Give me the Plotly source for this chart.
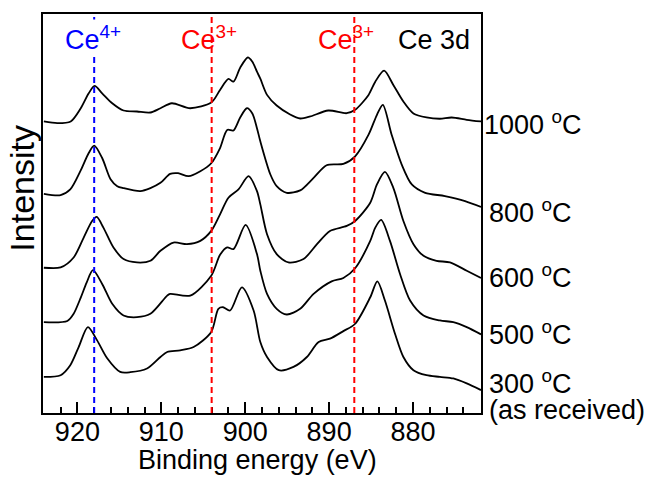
import plotly.graph_objects as go

# ---------------- data (binding energy in eV, offset intensity in a.u.) ----------------
be_1000 = [924.0, 922.4, 920.8, 919.6, 918.65, 917.95, 917.05, 915.85, 914.5, 912.9, 911.3, 910.1,
           908.75, 906.55, 904.05, 903.0, 902.0, 901.4, 900.6, 899.7, 899.15, 898.6, 898.2, 897.4,
           896.25, 894.65, 893.45, 892.25, 890.1, 887.9, 886.9, 885.3, 884.5, 883.45, 882.35,
           881.15, 879.95, 878.4, 876.8, 875.4, 873.6, 871.9]
int_1000 = [293, 291.3, 293, 306.3, 321.3, 328.7, 321.3, 311.3, 304, 303, 302, 306.3,
            311.3, 306.3, 312, 324.7, 335.7, 333, 347, 357.3, 353, 343, 336, 319.7,
            309, 300, 296, 298, 304, 301.3, 304.7, 319.7, 333, 344, 329.7,
            313, 301, 297, 295.7, 297, 294.7, 293]

be_800 = [924.0, 922.0, 920.85, 919.65, 918.65, 918.0, 917.05, 916.05, 915.25, 914.5, 912.5, 911.3,
          910.1, 908.95, 908.0, 906.75, 905.35, 904.05, 903.0, 902.15, 901.4, 900.6, 899.8, 899.15,
          898.6, 898.2, 897.0, 896.25, 895.05, 893.45, 891.85, 890.3, 888.3, 886.9, 885.3, 884.3,
          883.6, 882.55, 881.35, 880.15, 878.55, 876.2, 873.8, 871.9]
int_800 = [220.3, 219, 224.7, 243, 261.3, 268.7, 256.3, 235, 228, 226, 223, 226,
           231.3, 240.3, 241, 238, 243, 251, 266.3, 284.5, 284, 297, 306.3, 301,
           286.3, 273, 239.7, 228, 221.3, 223.7, 236.3, 249, 250.3, 258, 279.7, 299.7,
           309.7, 279.7, 249.7, 229.7, 221.3, 218, 213, 207]

be_600 = [924.0, 922.0, 920.45, 919.25, 918.25, 917.7, 916.9, 915.7, 914.5, 912.9, 911.3, 910.1,
          908.55, 906.95, 905.35, 904.05, 903.0, 902.0, 900.8, 899.6, 898.6, 898.2, 897.4, 896.25,
          894.85, 893.05, 891.45, 889.9, 887.9, 886.9, 885.1, 884.3, 883.35, 882.35, 881.15,
          879.95, 878.75, 877.2, 875.6, 873.6, 871.9]
int_600 = [146, 146.3, 156.3, 176.3, 193, 197, 186.3, 166.3, 154.7, 151.3, 153, 163,
           171.3, 169.7, 173, 183, 199.7, 216.3, 224.7, 238, 223, 209.7, 179.7, 159.7,
           151.3, 154.7, 169.7, 183, 188, 193, 211.3, 229.7, 242.3, 226.3, 193,
           169.7, 158, 153, 151.3, 143, 135.7]

be_500 = [924.0, 921.2, 920.45, 919.6, 918.9, 918.15, 917.05, 915.85, 914.5, 912.9, 911.3, 909.3,
          908.95, 906.55, 904.05, 903.0, 902.15, 901.4, 899.95, 898.6, 898.2, 897.4, 896.25,
          895.05, 893.45, 891.85, 889.7, 888.3, 886.9, 885.1, 884.5, 883.8, 882.75, 881.55,
          880.35, 878.75, 876.8, 875.2, 873.6, 871.9]
int_500 = [91.3, 92.5, 99.7, 116, 131, 143.5, 129.7, 109.7, 98, 96.3, 99.7, 118,
           119.7, 118, 138, 159, 166.5, 164.7, 189, 159.7, 143, 119.7, 104.7,
           99, 104.7, 119.7, 132.3, 135.7, 145.5, 173, 186.3, 194, 173, 139.7,
           113, 98, 93, 91.3, 86.3, 79]

be_300 = [924.0, 922.0, 920.85, 919.85, 918.75, 917.65, 916.45, 914.9, 913.7, 911.7, 910.1, 909.3,
          907.75, 906.15, 904.05, 903.2, 902.65, 901.8, 900.4, 899.0, 898.2, 897.4, 896.0,
          894.25, 892.65, 891.25, 889.9, 888.3, 886.9, 885.1, 884.25, 883.35, 882.15, 881.15,
          879.95, 878.4, 876.8, 875.2, 873.6, 871.9]
int_300 = [36.3, 38, 48, 66.3, 86.3, 73, 55, 41.3, 41, 44.7, 56.3, 61.3,
           63, 66.3, 81.5, 104.7, 106.3, 103, 126.3, 103, 71.3, 56.3, 43,
           46.3, 56.3, 71.3, 74.7, 82.3, 89.7, 116.3, 132.3, 113, 79.7, 56.3,
           43, 38, 36.3, 34.7, 29.7, 23]

series_be = [be_1000, be_800, be_600, be_500, be_300]
series_int = [int_1000, int_800, int_600, int_500, int_300]
series_names = ["1000 <sup>o</sup>C", "800 <sup>o</sup>C", "600 <sup>o</sup>C",
                "500 <sup>o</sup>C", "300 <sup>o</sup>C"]

marker_be = [918.0, 904.0, 887.0]
marker_colors = ["#0000ff", "#ff0000", "#ff0000"]
marker_labels = ["Ce<sup>4+</sup>", "Ce<sup>3+</sup>", "Ce<sup>3+</sup>"]
marker_label_x = [918.13, 904.26, 887.95]
marker_label_bg = ["white", "rgba(0,0,0,0)", "rgba(0,0,0,0)"]

tick_vals = [920, 910, 900, 890, 880]

# ---------------- figure ----------------
FONT = "Liberation Sans, Arial, sans-serif"
fig = go.Figure()

for be, inten, nm in zip(series_be, series_int, series_names):
    fig.add_trace(go.Scatter(x=be, y=inten, mode="lines", name=nm,
                             line=dict(color="black", width=1.8, shape="spline", smoothing=0.8),
                             showlegend=False, hoverinfo="skip"))

for xb, col in zip(marker_be, marker_colors):
    fig.add_shape(type="line", xref="x", yref="paper", x0=xb, x1=xb, y0=0, y1=1,
                  line=dict(color=col, width=2, dash="6px,4px"), layer="above")

annos = []
for lab, xl, col, bg in zip(marker_labels, marker_label_x, marker_colors, marker_label_bg):
    annos.append(dict(x=xl, y=0.940, xref="x", yref="paper", text=lab, showarrow=False,
                      xanchor="center", yanchor="middle", bgcolor=bg,
                      font=dict(family=FONT, size=27, color=col)))
annos.append(dict(x=877.46, y=0.9337, xref="x", yref="paper", text="Ce 3d", showarrow=False,
                  xanchor="center", yanchor="middle", font=dict(family=FONT, size=27, color="black")))

# temperature labels on the right
label_y = [0.7272, 0.5067, 0.3434, 0.2012, 0.0766]
label_shift = [1, 6, 6, 6, 6]
for nm, yy, sh in zip(series_names, label_y, label_shift):
    annos.append(dict(x=1.0, y=yy, xref="paper", yref="paper", text=nm, showarrow=False,
                      xanchor="left", yanchor="middle", xshift=sh,
                      font=dict(family=FONT, size=27, color="black")))
annos.append(dict(x=1.0, y=0.0077, xref="paper", yref="paper", text="(as received)", showarrow=False,
                  xanchor="left", yanchor="middle", xshift=6,
                  font=dict(family=FONT, size=27, color="black")))

# axis titles
annos.append(dict(x=0.4886, y=-0.1187, xref="paper", yref="paper", text="Binding energy (eV)",
                  showarrow=False, xanchor="center", yanchor="middle",
                  font=dict(family=FONT, size=27, color="black")))
annos.append(dict(x=-0.0479, y=0.5623, xref="paper", yref="paper", text="Intensity", textangle=-90,
                  showarrow=False, xanchor="center", yanchor="middle",
                  font=dict(family=FONT, size=34, color="black")))

fig.update_layout(
    width=655, height=477,
    margin=dict(l=43, r=174, t=12, b=64),
    paper_bgcolor="white", plot_bgcolor="white",
    annotations=annos,
    font=dict(family=FONT, size=27, color="black"),
)
fig.update_xaxes(range=[924.1, 871.9], tickvals=tick_vals, ticks="inside", ticklen=11, tickwidth=2,
                 tickcolor="black", showline=True, linecolor="black", linewidth=2, mirror=True,
                 showgrid=False, zeroline=False, tickfont=dict(family=FONT, size=27, color="black"),
                 ticklabelstandoff=-6,
                 minor=dict(dtick=2, tick0=920, ticks="inside", ticklen=6, tickwidth=2, tickcolor="black",
                            showgrid=False))
fig.update_yaxes(range=[0, 401], showticklabels=False, ticks="", showline=True, linecolor="black",
                 linewidth=2, mirror=True, showgrid=False, zeroline=False)

fig.write_html("out.html")
